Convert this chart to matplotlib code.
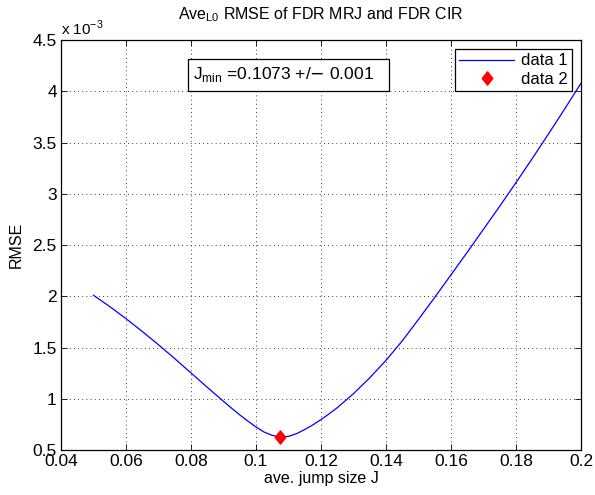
import numpy as np
import matplotlib.pyplot as plt
from matplotlib.path import Path
from matplotlib.patches import Rectangle
from matplotlib.ticker import FuncFormatter

plt.rcParams['font.family'] = ['Liberation Sans', 'DejaVu Sans']
plt.rcParams['font.size'] = 11

# average jump size J and RMSE (in units of 1e-3)
jump = [0.05, 0.055, 0.06, 0.065, 0.07, 0.075, 0.08, 0.085, 0.09, 0.0925,
        0.095, 0.0975, 0.1, 0.1025, 0.105, 0.1073, 0.11, 0.1125, 0.115,
        0.1175, 0.12, 0.1225, 0.125, 0.13, 0.135, 0.14, 0.145, 0.15, 0.155,
        0.16, 0.165, 0.17, 0.175, 0.18, 0.185, 0.19, 0.195, 0.2]
rmse = [2.01, 1.90, 1.782, 1.657, 1.527, 1.392, 1.252, 1.112, 0.975, 0.908,
        0.843, 0.782, 0.725, 0.675, 0.643, 0.627, 0.633, 0.66, 0.70,
        0.745, 0.797, 0.853, 0.913, 1.05, 1.205, 1.375, 1.565, 1.775, 1.99,
        2.21, 2.43, 2.655, 2.88, 3.11, 3.345, 3.585, 3.83, 4.08]

j_min = 0.1073
rmse_min = 0.627
j_tol = 0.001

# MATLAB-style diamond, a bit taller than wide
diamond = Path([(0, -1), (0.8, 0), (0, 1), (-0.8, 0), (0, -1)],
               [Path.MOVETO, Path.LINETO, Path.LINETO, Path.LINETO, Path.CLOSEPOLY])

fig = plt.figure(figsize=(5.95, 4.95), dpi=100)
ax = fig.add_axes([0.1025, 0.0909, 0.874, 0.828])

ax.plot(jump, rmse, color='blue', lw=0.9, label='data 1')
ax.plot([j_min], [rmse_min], ls='none', marker=diamond, color='red',
        markersize=9.5, label='data 2')

ax.set_xlim(0.04, 0.2)
ax.set_ylim(0.5, 4.5)
ax.set_xticks(np.arange(0.04, 0.2001, 0.02))
ax.set_yticks(np.arange(0.5, 4.5001, 0.5))
fmt = FuncFormatter(lambda v, p: '%g' % round(v, 4))
ax.xaxis.set_major_formatter(fmt)
ax.yaxis.set_major_formatter(fmt)
ax.tick_params(direction='in', top=True, right=True, length=4, width=0.6,
               labelsize=12.5, pad=3)
ax.grid(True, color='black', ls=(0, (1, 4)), lw=0.6)
for s in ax.spines.values():
    s.set_linewidth(0.9)

ax.set_title(r'Ave$_{\mathregular{L0}}$ RMSE of FDR MRJ and FDR CIR',
             fontsize=11.5, pad=15)
ax.set_xlabel('ave. jump size J', fontsize=11.5, labelpad=1)
ax.set_ylabel('RMSE', fontsize=11.5, labelpad=6)
ax.text(0.0, 1.005, r'x 10$^{\mathregular{-3}}$', transform=ax.transAxes,
        fontsize=11, va='bottom', ha='left')

# annotation box with the minimum location
ax.add_patch(Rectangle((0.0791, 4.0), 0.1409 - 0.0791, 0.319, fc='white',
                       ec='black', lw=0.9, zorder=5))
ax.text(0.0806, 4.16, r'J$_{\mathregular{min}}$ =%.4f +/$-$ %g' % (j_min, j_tol),
        fontsize=12.5, va='center', ha='left', zorder=6)

leg = ax.legend(loc='upper right', fontsize=12, fancybox=False, framealpha=1,
                edgecolor='black', handlelength=3.3, handletextpad=0.4,
                borderaxespad=0.55, labelspacing=0.2, borderpad=0.25)
leg.get_frame().set_linewidth(0.9)

fig.savefig('out.png', dpi=100)
